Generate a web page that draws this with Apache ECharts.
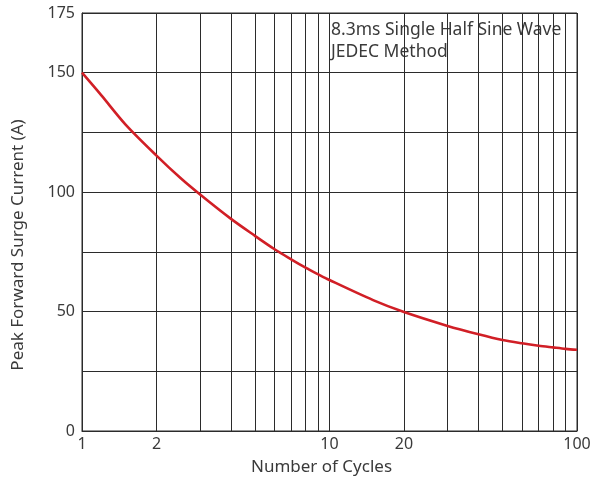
<!DOCTYPE html>
<html>
<head>
<meta charset="utf-8">
<script src="https://cdn.jsdelivr.net/npm/echarts@6/dist/echarts.min.js"></script>
<style>html,body{margin:0;padding:0;background:#fff;}#c{width:608px;height:483px;}</style>
</head>
<body>
<div id="c"></div>
<script>
const cycles = [1, 1.2, 1.5, 2, 2.5, 3, 4, 5, 6, 7, 8, 9, 10, 15, 20, 30, 40, 50, 60, 70, 80, 90, 100];
const current = [150, 140.4, 128.3, 115.3, 105.9, 99.0, 88.8, 81.7, 76.1, 71.9, 68.4, 65.6, 63.2, 54.8, 49.8, 44.0, 40.5, 38.1, 36.7, 35.7, 35.0, 34.4, 34.0];
const xGridValues = [1, 2, 3, 4, 5, 6, 7, 8, 9, 10, 20, 30, 40, 50, 60, 70, 80, 90, 100];
const xLabelValues = [1, 2, 10, 20, 100];
const yLabelValues = [0, 50, 100, 150, 175];
const noteLines = ['8.3ms Single Half Sine Wave', 'JEDEC Method'];
const xName = 'Number of Cycles';
const yName = 'Peak Forward Surge Current (A)';

const FONT = '"Noto Sans", sans-serif';
const TXT = '#3a3a3a';
const GRID = '#2b2b2b';

const chart = echarts.init(document.getElementById('c'), null, {renderer: 'canvas'});
chart.setOption({
  backgroundColor: '#fff',
  animation: false,
  grid: {left: 82, right: 31, top: 13, bottom: 52, show: true, borderColor: GRID, borderWidth: 1},
  xAxis: {
    type: 'log', logBase: 10, min: 1, max: 100,
    name: xName, nameLocation: 'middle', nameGap: 28,
    nameTextStyle: {fontFamily: FONT, fontSize: 17, color: TXT, padding: [0, 16, 0, 0]},
    axisLine: {show: true, lineStyle: {color: GRID, width: 1}},
    axisTick: {show: false, customValues: xGridValues},
    axisLabel: {customValues: xLabelValues, fontFamily: FONT, fontSize: 16, color: TXT, margin: 5},
    splitLine: {show: true, lineStyle: {color: GRID, width: 1}},
    minorSplitLine: {show: false}
  },
  yAxis: {
    type: 'value', min: 0, max: 175, interval: 25,
    name: yName, nameLocation: 'middle', nameGap: 55,
    nameTextStyle: {fontFamily: FONT, fontSize: 17, color: TXT, padding: [0, 46, 0, 0]},
    axisLine: {show: true, lineStyle: {color: GRID, width: 1}},
    axisTick: {show: false},
    axisLabel: {
      fontFamily: FONT, fontSize: 16, color: TXT, margin: 7,
      formatter: function (v) { return yLabelValues.indexOf(v) >= 0 ? String(v) : ''; }
    },
    splitLine: {show: true, lineStyle: {color: GRID, width: 1}}
  },
  graphic: [{
    type: 'group', left: 322, top: 17, z: 100,
    children: [
      {type: 'rect', shape: {x: 0, y: 0, width: 253, height: 50}, style: {fill: '#fff'}},
      {type: 'text', x: 9, y: 2, style: {text: noteLines.join('\n'), font: '17.5px ' + FONT, fill: TXT, lineHeight: 22}}
    ]
  }],
  series: [{
    type: 'line',
    data: cycles.map((c, i) => [c, current[i]]),
    showSymbol: false,
    smooth: 0.3,
    lineStyle: {color: '#d11f26', width: 2.6},
    itemStyle: {color: '#d11f26'},
    z: 10
  }]
});
</script>
</body>
</html>
